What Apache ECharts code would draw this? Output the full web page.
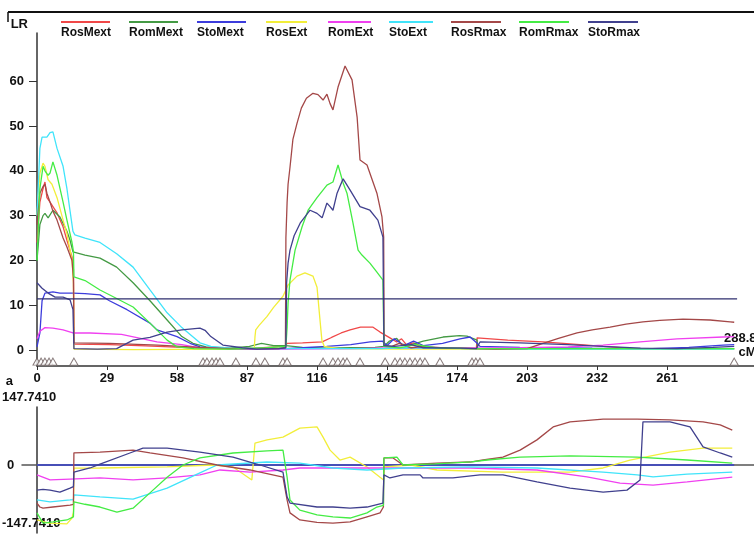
<!DOCTYPE html>
<html>
<head>
<meta charset="utf-8">
<script src="https://cdn.jsdelivr.net/npm/echarts@6/dist/echarts.min.js"></script>
<style>
  html, body { margin: 0; padding: 0; background: #fff; }
  #chart { width: 754px; height: 535px; }
</style>
</head>
<body>
<div id="chart"></div>
<script>
// 性状名称与颜色
const traitNames = ['RosMext', 'RomMext', 'StoMext', 'RosExt', 'RomExt', 'StoExt', 'RosRmax', 'RomRmax', 'StoRmax'];
const traitColors = ['#f04848', '#449a44', '#3c3cdc', '#f2ee3a', '#f040f0', '#40e4fa', '#a44848', '#44ec44', '#40408e'];

// x轴刻度 (cM)
const xTicks = [0, 29, 58, 87, 116, 145, 174, 203, 232, 261];
const yTicksLR = [0, 10, 20, 30, 40, 50, 60];
const effectLimit = 147.741;
const chromEnd = 288.8;
const thresholdLR = 11.4;

// 标记位置 (cM)
const markerPos = [0, 1.7, 3.3, 5, 6.6, 15.3, 68.8, 70.4, 72.5, 74.2, 75.8, 82.4, 90.7, 94.4, 101.9, 103.6,
  118.5, 122.6, 124.7, 126.8, 128.4, 133.8, 144.2, 148.3, 150.4, 152.4, 154.5, 156.6, 158.7, 160.7,
  166.9, 180.2, 181.8, 183.5, 288.8];

// 上图: LR 曲线
const rosMextLR = [[0,24],[1.2,33],[2.5,36],[3.3,37.5],[4.1,34],[5.4,33],[6.6,32],[8.3,30.6],[10.8,27.5],[12.4,24.5],[14.5,20.8],[15.1,18],[15.3,1.3],[30,1.2],[45,0.9],[60,0.6],[75,0.3],[90,0.4],[102.7,0.8],[103.6,1.5],[110,1.6],[118.1,1.8],[122,2.8],[126,3.8],[129.7,4.5],[134,5.1],[139.2,5.1],[142.1,4],[146.2,2.7],[149,1.8],[151,2.5],[153,1.2],[156,1.6],[160,0.6],[170,0.5],[182,0.4],[182.3,2.7],[195,2.2],[209.6,1.8],[225,1.2],[237.4,0.7],[250,0.2],[270,0.3],[288.8,0.3]];
const romMextLR = [[0,20],[1.2,28],[2.5,30],[3.3,30.5],[4.6,29.5],[6.6,31.2],[9.5,29.7],[12.4,26.5],[13.7,24.5],[14.9,21.9],[15.7,21.6],[19.9,21.2],[26.1,20.5],[33,18.5],[39.8,15],[46.8,11],[53.9,6.7],[60,3],[64.6,1.5],[70,0.7],[80,0.4],[88,0.8],[93,1.5],[98,1],[103,1],[110,0.6],[120,0.4],[130,0.5],[140,0.6],[143.7,0.8],[146,2],[149,2.6],[151,1.3],[154.5,1.1],[160,2],[168.2,2.9],[175,3.2],[178.1,3.1],[182.3,2.2],[182.5,0.3],[200,0.3],[240,0.2],[288.8,0.3]];
const stoMextLR = [[0,0.7],[1.2,3.8],[2.1,11],[3.3,12.7],[6.6,13],[9.5,12.7],[14.9,12.7],[19.9,12.6],[26.1,12.3],[30,11],[37.3,9],[46.8,6],[49.7,4.5],[58,3],[63.4,1.5],[67.5,0.7],[75,0.3],[90,0.2],[103,0.3],[110,0.5],[120,0.8],[130,1.2],[138,1.8],[143,2],[145,1],[148,2.5],[152,1],[156,2],[160,1],[168,1.5],[175.2,2.5],[179.4,2.9],[182.3,1.5],[183.5,0.8],[200,0.6],[230,0.4],[255,0.3],[270,0.6],[284.2,1.1],[288.8,1.2]];
const rosExtLR = [[0,30],[1.2,39.5],[2.5,41.7],[3.3,41],[4.6,38],[6.2,37],[8.3,34],[10.8,29],[12.4,26],[14.5,20],[15.1,15],[15.3,0.2],[40,0.1],[80,0.2],[90,0.4],[90.3,3],[90.6,4.5],[92,5.5],[95.3,7.5],[98,9.5],[101.9,12],[104,14.5],[107.7,16.5],[111,17.2],[114.3,16.5],[116,14],[117,8],[118,2.2],[119,0.8],[125,0.3],[150,0.2],[200,0.2],[288.8,0.2]];
const romExtLR = [[0,2.5],[1.2,4.2],[3.3,5],[6.6,4.9],[10.8,4.5],[14.9,3.8],[22,3.8],[35,3.5],[49.7,1.8],[60,1.2],[67.5,0.5],[80,0.3],[100,0.2],[130,0.3],[150,0.5],[175,0.4],[200,0.5],[220,0.7],[234.5,1.1],[249.8,1.8],[265.1,2.5],[284.2,2.9],[288.8,3]];
const stoExtLR = [[0,30],[1.2,45],[2.1,47.5],[4.1,47.5],[5.4,48.5],[6.6,48.7],[8.3,45],[10.8,41],[12.4,36],[13.7,31],[14.9,26.5],[15.7,25.7],[19.9,25],[26.1,24],[33,21.5],[39.8,18.5],[46.8,13.4],[53.9,8.3],[60,5],[67.5,1.6],[72,0.8],[80,0.4],[100,0.3],[143,0.3],[150,0.5],[200,0.2],[288.8,0.2]];
const rosRmaxLR = [[0,28],[1.2,35],[2.5,36.5],[3.3,37],[4.1,35],[5.4,33],[6.6,31],[8.3,29],[10.8,25],[12.4,23],[14.5,20],[15.1,16],[15.3,1.6],[30,1.5],[50,1.1],[67.5,0.6],[80,0.3],[100,0.3],[102.9,0.5],[103.1,25],[103.6,33],[104,37],[104.8,40.8],[106,47],[107.7,50.6],[109.5,54],[111.6,56.2],[114.3,57.3],[116.4,57],[118.5,55.8],[120.1,57.1],[121.4,55],[122.6,53.6],[124.7,58.7],[127.6,63.4],[130.5,60.3],[132.6,52],[133.8,42.4],[136.7,41.3],[140.8,35],[142.9,29.7],[143.6,25.2],[143.8,1],[147,0.8],[150,1.5],[155,0.5],[160,0.8],[170,0.4],[190,0.2],[203,0.3],[209.6,1.5],[216,2.6],[223.7,3.8],[230,4.5],[237.4,5.1],[244,5.8],[251,6.3],[258,6.6],[267.6,6.9],[278.8,6.7],[287.1,6.3],[288.8,6.2]];
const romRmaxLR = [[0,20],[1.2,36],[2.5,41],[3.3,40],[4.6,39],[5.4,39.5],[6.6,42],[8.3,39],[10.8,33],[12.4,29],[14.5,24],[15.1,22],[15.3,16.3],[19.9,15.5],[26.1,13.4],[33,11.5],[39.8,9.6],[46.8,6],[53.9,2.2],[58,0.7],[65,0.3],[80,0.2],[95,0.5],[103.1,0.8],[103.6,5],[104,10.5],[104.8,15.6],[106.9,22.3],[109.8,27.5],[112.3,31.2],[116,34],[120.1,36.8],[122.6,37.5],[124.7,41.3],[126.8,37.3],[128.4,35],[130.9,28.3],[133,22.3],[134.6,21.2],[137.9,19.4],[140.8,17.4],[143.3,15.6],[143.7,0.8],[150,0.5],[157,1.2],[165,0.5],[180,0.3],[230,0.3],[288.8,0.3]];
const stoRmaxLR = [[0,15],[2.1,13.8],[4.6,12.7],[7.5,11.8],[10.8,11.8],[13.7,11.2],[14.9,9],[15.3,0.3],[25,0.2],[33,0.3],[39.8,2.2],[46.8,2.8],[53.9,4],[60,4.5],[67.5,4.9],[69.6,4.4],[72,3],[77,1.1],[85,0.5],[91.1,0.2],[100,0.3],[103.1,0.5],[103.4,15],[104,19.4],[104.8,22.3],[106.5,25.5],[109,28.3],[113.1,31.2],[116,30.5],[118.1,29.5],[120.1,32.8],[121.4,32],[122.6,31.2],[124.3,35],[126.8,38.2],[129.7,35.7],[133.8,32],[137.9,31.2],[141.2,29],[143.3,25.2],[143.7,1],[148,0.8],[155,1.2],[160,0.5],[175,0.4],[182,0.3],[183.5,1.8],[200,1.6],[220,1.2],[234.5,0.8],[250,0.4],[265,0.3],[280,0.6],[288.8,0.8]];

// 下图: 效应值 a
const rosMextA = [[0,0],[288.8,0]];
const romMextA = [[0,0],[288.8,0]];
const stoMextA = [[0,0],[288.8,0]];
const rosExtA = [[0,-140],[5,-148],[12.4,-150],[14.5,-135],[15.1,-120],[15.3,-8],[26.1,-7.6],[53.9,-5],[73,0],[81.2,-5],[89,-38],[89.8,-38],[90.3,56],[95.3,64],[101.9,71],[108.9,94],[116,97],[118.5,71],[121.4,38],[125.5,12.7],[129.7,20],[136.7,-5],[142.1,-31],[143.6,-38],[143.8,-5],[155,0],[165.7,-12.7],[193,-18],[220.8,-18],[234.5,-7.6],[245.6,12.7],[262.2,33],[275.9,43],[288,43]];
const romExtA = [[0,-25],[5.4,-38],[13.7,-36],[26.1,-33],[39.8,-38],[53.9,-33],[67.5,-25],[75.8,-12.7],[88.2,-18],[101.9,-12.7],[108.9,-7.6],[122.6,-7.6],[136.7,-7.6],[151.6,-7.6],[179.4,-7.6],[207.1,-12.7],[227.8,-30],[241.5,-46],[255.2,-51],[269.3,-43],[288,-31]];
const stoExtA = [[0,-89],[5.4,-94],[13.7,-89],[15.1,-88],[15.3,-76],[26.1,-81],[39.8,-87],[53.9,-59],[67.5,-20],[74.6,0],[95.3,7.6],[108.9,5],[122.6,-7.6],[136.7,-12.7],[151.6,-7.6],[179.4,-5],[207.1,-7.6],[234.5,-18],[248.6,-25],[255.2,-30],[269.3,-23],[288,-18]];
const rosRmaxA = [[0,-97],[1.2,-107],[2.5,-110],[6.6,-107],[13.7,-102],[15.1,-100],[15.3,31],[26.1,33],[39.8,38],[46.8,31],[60.5,18],[74.6,0],[88.2,-12.7],[101.9,-30.6],[103.6,-89],[104.8,-122],[108.9,-140],[116,-146],[122.6,-148],[129.7,-145],[136.7,-132],[142.1,-122],[143.5,-107],[143.7,18],[147.5,18],[151.6,0],[165.7,5],[179.4,7.6],[184.8,12.7],[193,20],[200.1,38],[207.1,64],[213.8,97],[220.8,110],[234.5,117],[248.6,117],[262.2,115],[275.9,110],[283,102],[288,89]];
const romRmaxA = [[0,-122],[2.5,-148],[6.6,-145],[12.4,-140],[15.1,-132],[15.3,-94],[19.9,-100],[26.1,-107],[33.1,-120],[39.8,-110],[46.8,-71],[53.9,-31],[60.5,0],[67.5,18],[81.2,30.6],[95.3,36],[101.9,38],[103.6,-31],[104.8,-89],[108.9,-115],[116,-127],[122.6,-132],[129.7,-135],[136.7,-122],[140.8,-107],[143.5,-103],[143.7,18],[149.1,20],[151.6,0],[165,3],[180,8],[186.4,12.7],[200.1,20],[220.8,23],[248.6,20],[269.3,12.7],[288,5]];
const stoRmaxA = [[0,-64],[2.5,-62],[5.4,-64],[9.5,-69],[13.7,-59],[15.1,-55],[15.3,-18],[22,-7.6],[26.1,2],[38.5,30.6],[43.9,43],[53.9,43],[67.5,33],[81.2,20],[92.4,0],[101.9,-18],[103.6,-81],[104.8,-97],[116,-107],[122.6,-107],[129.7,-110],[136.7,-107],[143.3,-97],[143.7,-25],[146.2,-33],[151.6,-25],[158.7,-25],[159.9,-33],[172.3,-33],[183.5,-25],[193,-25],[207.1,-43],[220.8,-59],[234.5,-69],[244.4,-64],[249.8,-38],[251,110],[262.2,110],[270.5,97],[275.9,46],[283,30.6],[288,20]];

const lrData = [rosMextLR, romMextLR, stoMextLR, rosExtLR, romExtLR, stoExtLR, rosRmaxLR, romRmaxLR, stoRmaxLR];
const effectData = [rosMextA, romMextA, stoMextA, rosExtA, romExtA, stoExtA, rosRmaxA, romRmaxA, stoRmaxA];

// 图例位置
const legendLeft = [55, 123, 191, 260, 322, 383, 445, 513, 582];
const legendLineWidth = [49, 49, 49, 41, 43, 44, 50, 50, 50];

const chart = echarts.init(document.getElementById('chart'));

const axisFont = { fontFamily: 'Liberation Sans, Arial, sans-serif', fontWeight: 'bold', fontSize: 13, color: '#111' };

const legends = [];
for (let i = 0; i < traitNames.length; i++) {
    legends.push({
        data: [traitNames[i]],
        left: legendLeft[i],
        top: 16,
        padding: 0,
        itemWidth: 0,
        itemHeight: 0,
        itemStyle: { opacity: 0 },
        selectedMode: false,
        formatter: function (name) {
            return '{l|}\n{t|' + name + '}';
        },
        textStyle: {
            rich: {
                l: { width: legendLineWidth[i], height: 2, lineHeight: 8, backgroundColor: traitColors[i] },
                t: { fontFamily: 'Liberation Sans, Arial, sans-serif', fontWeight: 'bold', fontSize: 12, lineHeight: 14, color: '#111' }
            }
        }
    });
}

const series = [];
for (let i = 0; i < traitNames.length; i++) {
    series.push({
        name: traitNames[i],
        type: 'line',
        xAxisIndex: 0,
        yAxisIndex: 0,
        data: lrData[i],
        showSymbol: false,
        silent: true,
        lineStyle: { color: traitColors[i], width: 1.3 },
        itemStyle: { color: traitColors[i] }
    });
}
for (let i = 0; i < traitNames.length; i++) {
    series.push({
        name: traitNames[i],
        type: 'line',
        xAxisIndex: 1,
        yAxisIndex: 1,
        data: effectData[i],
        showSymbol: false,
        silent: true,
        lineStyle: { color: traitColors[i], width: 1.3 },
        itemStyle: { color: traitColors[i] }
    });
}

// 阈值线
series.push({
    type: 'line',
    xAxisIndex: 0,
    yAxisIndex: 0,
    data: [[0, thresholdLR], [290, thresholdLR]],
    showSymbol: false,
    silent: true,
    lineStyle: { color: '#2e2e6e', width: 1.2 }
});

// 标记三角形
series.push({
    type: 'scatter',
    xAxisIndex: 0,
    yAxisIndex: 0,
    data: markerPos.map(function (p) { return [p, -2.6]; }),
    symbol: 'triangle',
    symbolSize: [8, 7],
    silent: true,
    itemStyle: { color: '#ffffff', borderColor: '#6a5a5a', borderWidth: 1 },
    z: 5
});

const option = {
    animation: false,
    backgroundColor: '#ffffff',
    legend: legends,
    grid: [
        { left: 37, right: 0, top: 33, bottom: 169, containLabel: false, outerBoundsMode: 'none' },
        { left: 22, right: 0, top: 407, bottom: 2, containLabel: false, outerBoundsMode: 'none' }
    ],
    xAxis: [
        {
            type: 'value',
            gridIndex: 0,
            min: 0,
            max: 297,
            name: '{v|' + chromEnd.toFixed(1) + '}\n{u|cM}',
            nameLocation: 'end',
            nameGap: -30,
            nameTextStyle: {
                padding: [0, 0, 42, 0],
                rich: {
                    v: { fontFamily: 'Liberation Sans, Arial, sans-serif', fontWeight: 'bold', fontSize: 13, color: '#111', align: 'left', lineHeight: 14 },
                    u: { fontFamily: 'Liberation Sans, Arial, sans-serif', fontWeight: 'bold', fontSize: 13, color: '#111', align: 'right', lineHeight: 14 }
                }
            },
            axisLine: { show: true, onZero: false, lineStyle: { color: '#333', width: 1.5 } },
            axisTick: { show: true, length: 4, customValues: xTicks, lineStyle: { color: '#333' } },
            axisLabel: Object.assign({ margin: 6, customValues: xTicks }, axisFont),
            splitLine: { show: false }
        },
        {
            type: 'value',
            gridIndex: 1,
            min: -6.2,
            max: 297,
            axisLine: { show: true, onZero: true, lineStyle: { color: '#555', width: 1.5 } },
            axisTick: { show: false },
            axisLabel: { show: false },
            splitLine: { show: false }
        }
    ],
    yAxis: [
        {
            type: 'value',
            gridIndex: 0,
            min: -3.57,
            max: 70.76,
            name: 'LR',
            nameLocation: 'end',
            nameGap: 2,
            nameTextStyle: Object.assign({ align: 'right', padding: [0, 9, 0, 0] }, axisFont),
            axisLine: { show: true, onZero: false, lineStyle: { color: '#333', width: 1.5 } },
            axisTick: { show: true, length: 8, customValues: yTicksLR, lineStyle: { color: '#333' } },
            axisLabel: Object.assign({ margin: 13, customValues: yTicksLR }, axisFont),
            splitLine: { show: false }
        },
        {
            type: 'value',
            gridIndex: 1,
            min: -173.2,
            max: effectLimit,
            name: 'a',
            nameLocation: 'end',
            nameGap: 19,
            nameTextStyle: Object.assign({ align: 'right', padding: [0, 24, 0, 0] }, axisFont),
            axisLine: { show: true, onZero: true, lineStyle: { color: '#333', width: 1.5 } },
            axisTick: { show: false },
            axisLabel: {
                margin: 20,
                align: 'left',
                customValues: [-effectLimit, 0, effectLimit],
                formatter: function (v) {
                    if (v > 0) return '{top|' + effectLimit.toFixed(4) + '}';
                    if (v < 0) return '{n|-' + effectLimit.toFixed(4) + '}';
                    return '{z|0}';
                },
                rich: {
                    top: Object.assign({ padding: [0, 0, 20, 0] }, axisFont),
                    n: Object.assign({}, axisFont),
                    z: Object.assign({ padding: [0, 0, 0, 5] }, axisFont)
                }
            },
            splitLine: { show: false }
        }
    ],
    graphic: [
        {
            type: 'line',
            shape: { x1: 8, y1: 12, x2: 754, y2: 12 },
            style: { stroke: '#111', lineWidth: 2 },
            silent: true
        },
        {
            type: 'line',
            shape: { x1: 8, y1: 12, x2: 8, y2: 22 },
            style: { stroke: '#111', lineWidth: 1.5 },
            silent: true
        }
    ],
    series: series
};

chart.setOption(option);
</script>
</body>
</html>
